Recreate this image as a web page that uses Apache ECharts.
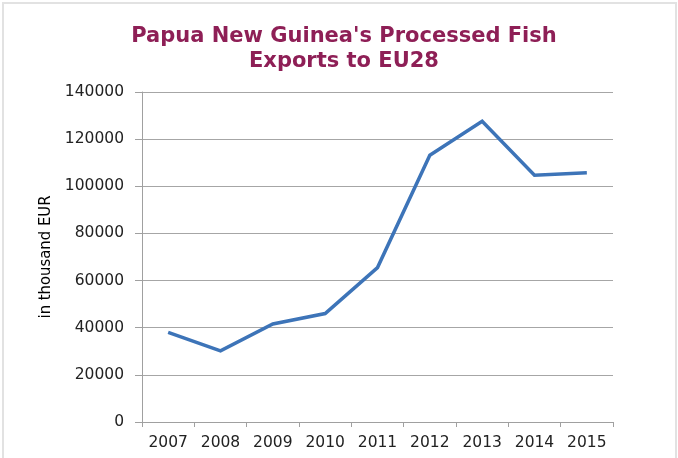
<!DOCTYPE html>
<html>
<head>
<meta charset="utf-8">
<script src="https://cdn.jsdelivr.net/npm/echarts@6/dist/echarts.min.js"></script>
<style>
  html, body { margin: 0; padding: 0; background: #ffffff; }
  #chart { width: 678px; height: 458px; }
</style>
</head>
<body>
<div id="chart"></div>
<script>
// Processed fish exports, thousand EUR
const years = ['2007', '2008', '2009', '2010', '2011', '2012', '2013', '2014', '2015'];
const exportsValues = [38000, 30200, 41600, 46000, 65500, 113200, 127600, 104700, 105700];
const yTicks = { min: 0, max: 140000, interval: 20000 };

const chart = echarts.init(document.getElementById('chart'), null, { renderer: 'canvas' });

chart.setOption({
  backgroundColor: '#ffffff',
  animation: false,
  title: {
    text: "Papua New Guinea's Processed Fish\nExports to EU28",
    left: 339,
    textAlign: 'center',
    top: 19,
    textStyle: {
      fontFamily: 'DejaVu Sans',
      fontWeight: 'bold',
      fontSize: 21,
      lineHeight: 25,
      color: '#8E1F56'
    }
  },
  graphic: [{
    type: 'rect',
    shape: { x: 3, y: 3, width: 673, height: 470 },
    style: { fill: null, stroke: '#E2E2E2', lineWidth: 2 },
    silent: true
  }],
  grid: { left: 142, right: 65, top: 92, bottom: 36 },
  xAxis: {
    type: 'category',
    data: years,
    boundaryGap: true,
    axisLine: { lineStyle: { color: '#A0A0A0', width: 1 } },
    axisTick: { show: true, length: 5, inside: false, lineStyle: { color: '#A0A0A0' } },
    axisLabel: { fontFamily: 'DejaVu Sans', fontSize: 15.5, color: '#222222', margin: 13 }
  },
  yAxis: {
    type: 'value',
    min: yTicks.min,
    max: yTicks.max,
    interval: yTicks.interval,
    name: 'in thousand EUR',
    nameLocation: 'middle',
    nameRotate: 90,
    nameGap: 88,
    nameTextStyle: { fontFamily: '"DejaVu Sans Condensed", "Liberation Sans", sans-serif', fontSize: 16.5, color: '#000000' },
    axisLine: { show: true, lineStyle: { color: '#A0A0A0', width: 1 } },
    axisTick: { show: true, length: 7, lineStyle: { color: '#A0A0A0' } },
    axisLabel: {
      fontFamily: 'DejaVu Sans', fontSize: 15.5, color: '#222222', margin: 18,
      formatter: function (v) { return String(v); }
    },
    splitLine: { show: true, lineStyle: { color: '#A6A6A6', width: 1 } }
  },
  series: [{
    type: 'line',
    data: exportsValues,
    symbol: 'none',
    lineStyle: { color: '#3D74B8', width: 3.5, join: 'miter' },
    itemStyle: { color: '#3D74B8' }
  }]
});
</script>
</body>
</html>
